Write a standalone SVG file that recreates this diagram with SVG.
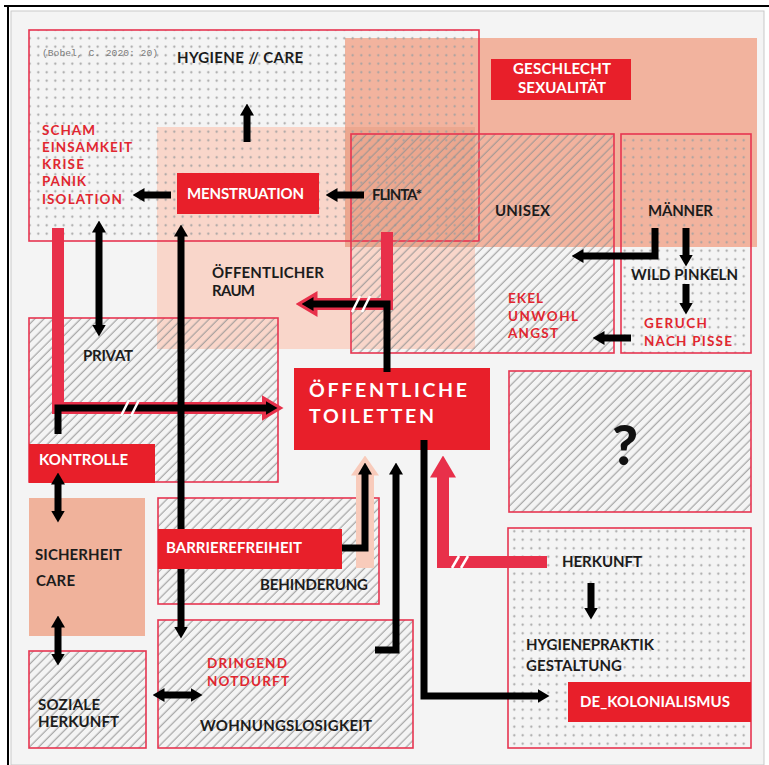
<svg xmlns="http://www.w3.org/2000/svg" width="769" height="765" viewBox="0 0 769 765">
<defs>
<style>
.t{font-family:Lato,"Noto Sans","DejaVu Sans",sans-serif;font-weight:700;font-size:15px;fill:#1c1c1c;letter-spacing:0}
.r{fill:#e1262f;font-size:13.5px}
.w{fill:#fff}
.big{font-size:19.5px}
.q{font-size:56px;fill:#111;font-weight:900}
.box{fill:none;stroke:#e63550;stroke-width:1.6}
.tag{fill:#e81f2a}
.blk{fill:none;stroke:#000;stroke-width:7;stroke-linejoin:miter}
.rb{fill:none;stroke:#e8304a;stroke-width:12;stroke-linejoin:miter}
.brk{stroke:#fff;stroke-width:2.5}
</style>
<pattern id="dots" width="8.5" height="8.5" patternUnits="userSpaceOnUse"><circle cx="4.25" cy="4.25" r="1.1" fill="#a0a0a0"/></pattern>
<pattern id="hatch" width="6.5" height="6.5" patternUnits="userSpaceOnUse" patternTransform="rotate(45)"><line x1="3" y1="0" x2="3" y2="6.5" stroke="#939393" stroke-width="1"/></pattern>
<marker id="ah" viewBox="0 0 12 14" refX="0.5" refY="7" markerWidth="12" markerHeight="14" markerUnits="userSpaceOnUse" orient="auto-start-reverse"><path d="M0,0 L12,7 L0,14 Z" fill="#000"/></marker>
<marker id="rh" viewBox="0 0 22 26" refX="0.5" refY="13" markerWidth="22" markerHeight="26" markerUnits="userSpaceOnUse" orient="auto"><path d="M0,0 L22,13 L0,26 Z" fill="#e8304a"/></marker>
<marker id="ph" viewBox="0 0 20 28" refX="0.5" refY="14" markerWidth="20" markerHeight="28" markerUnits="userSpaceOnUse" orient="auto"><path d="M0,0 L20,14 L0,28 Z" fill="#f8cbbb"/></marker>
</defs>

<!-- frame -->
<rect x="0" y="0" width="769" height="765" fill="#fff"/>
<rect x="11" y="11" width="753" height="754" fill="#f4f4f4" stroke="#c9c9c9" stroke-width="1"/>
<line x1="4" y1="6" x2="769" y2="6" stroke="#000" stroke-width="2"/>
<line x1="8" y1="5" x2="8" y2="765" stroke="#000" stroke-width="2"/>

<!-- background areas -->
<g id="geschlecht-area">
<rect x="345" y="38" width="412" height="209" fill="#f2b39e"/>
</g>
<g id="oeffentlicher-raum-area">
<rect x="157" y="127" width="318" height="222" fill="#f9d6ca"/>
<rect x="345" y="127" width="130" height="120" fill="#eca78f"/>
</g>

<!-- nodes -->
<g id="hygiene-care">
<rect x="29" y="30" width="450" height="211" fill="url(#dots)"/>
<rect x="29" y="30" width="450" height="211" class="box"/>
<text x="42" y="56" font-family="'Liberation Mono',monospace" font-size="9.5" fill="#7a7a7a" textLength="116" lengthAdjust="spacingAndGlyphs">(Bobel, C. 2020: 20)</text>
<text class="t" x="177" y="63" textLength="126">HYGIENE // CARE</text>
</g>
<g id="scham-list">
<text class="t r" x="42" y="135" textLength="53">SCHAM</text>
<text class="t r" x="42" y="152" textLength="90">EINSAMKEIT</text>
<text class="t r" x="42" y="169" textLength="42">KRISE</text>
<text class="t r" x="42" y="186" textLength="44">PANIK</text>
<text class="t r" x="42" y="203.5" textLength="80">ISOLATION</text>
</g>
<g id="unisex">
<rect x="351" y="134" width="263" height="219" fill="url(#hatch)"/>
<rect x="351" y="134" width="263" height="219" class="box"/>
<text class="t" x="495" y="216" textLength="55">UNISEX</text>
</g>
<g id="maenner">
<rect x="621" y="134" width="130" height="219" fill="url(#dots)"/>
<rect x="621" y="134" width="130" height="219" class="box"/>
<text class="t" x="648" y="216" textLength="65">MÄNNER</text>
</g>
<g id="wild-pinkeln"><text class="t" x="631" y="280" textLength="107">WILD PINKELN</text></g>
<g id="geruch">
<text class="t r" x="644" y="328" textLength="63">GERUCH</text>
<text class="t r" x="644" y="346" textLength="88">NACH PISSE</text>
</g>
<g id="ekel">
<text class="t r" x="508" y="303" textLength="35">EKEL</text>
<text class="t r" x="508" y="321" textLength="70">UNWOHL</text>
<text class="t r" x="508" y="338" textLength="50">ANGST</text>
</g>
<g id="flinta"><text class="t" x="372" y="200" textLength="50">FLINTA*</text></g>
<g id="geschlecht-sexualitaet">
<rect x="491" y="59" width="140" height="41" class="tag"/>
<text class="t w" x="513" y="74" textLength="98">GESCHLECHT</text>
<text class="t w" x="518" y="93" textLength="88">SEXUALITÄT</text>
</g>
<g id="menstruation">
<rect x="177" y="173" width="142" height="41" class="tag"/>
<text class="t w" x="187" y="199" textLength="117">MENSTRUATION</text>
</g>
<g id="oeffentlicher-raum">
<text class="t" x="212" y="278" textLength="112">ÖFFENTLICHER</text>
<text class="t" x="212" y="296" textLength="43">RAUM</text>
</g>
<g id="privat">
<rect x="29" y="318" width="249" height="164" fill="url(#hatch)"/>
<rect x="29" y="318" width="249" height="164" class="box"/>
<text class="t" x="83" y="361" textLength="50">PRIVAT</text>
</g>
<g id="kontrolle">
<rect x="29" y="444" width="126" height="39" class="tag"/>
<text class="t w" x="39" y="465" textLength="89">KONTROLLE</text>
</g>
<g id="oeffentliche-toiletten">
<rect x="294" y="368" width="196" height="82" class="tag"/>
<text class="t w big" x="309" y="397" textLength="158">ÖFFENTLICHE</text>
<text class="t w big" x="309" y="423" textLength="125">TOILETTEN</text>
</g>
<g id="frage">
<rect x="509" y="371" width="242" height="141" fill="url(#hatch)"/>
<rect x="509" y="371" width="242" height="141" class="box"/>
<text class="t q" x="625" y="465" text-anchor="middle">?</text>
</g>
<g id="sicherheit-care">
<rect x="29" y="498" width="116" height="138" fill="#f0b29b"/>
<text class="t" x="35" y="560" textLength="87">SICHERHEIT</text>
<text class="t" x="36" y="586" textLength="39">CARE</text>
</g>
<g id="behinderung">
<rect x="158" y="498" width="221" height="106" fill="url(#hatch)"/>
<rect x="158" y="498" width="221" height="106" class="box"/>
<text class="t" x="260" y="590" textLength="108">BEHINDERUNG</text>
</g>
<g id="soziale-herkunft">
<rect x="29" y="651" width="117" height="97" fill="url(#hatch)"/>
<rect x="29" y="651" width="117" height="97" class="box"/>
<text class="t" x="38" y="710" textLength="62">SOZIALE</text>
<text class="t" x="38" y="727" textLength="81">HERKUNFT</text>
</g>
<g id="wohnungslosigkeit">
<rect x="158" y="620" width="255" height="128" fill="url(#hatch)"/>
<rect x="158" y="620" width="255" height="128" class="box"/>
<text class="t r" x="207" y="668" textLength="80">DRINGEND</text>
<text class="t r" x="207" y="686" textLength="82">NOTDURFT</text>
<text class="t" x="200" y="731" textLength="172">WOHNUNGSLOSIGKEIT</text>
</g>
<g id="herkunft">
<rect x="508" y="528" width="243" height="220" fill="url(#dots)"/>
<rect x="508" y="528" width="243" height="220" class="box"/>
<text class="t" x="562" y="567" textLength="80">HERKUNFT</text>
<text class="t" x="526" y="650" textLength="128">HYGIENEPRAKTIK</text>
<text class="t" x="526" y="671" textLength="96">GESTALTUNG</text>
</g>
<g id="de-kolonialismus">
<rect x="568" y="682" width="183" height="40" class="tag"/>
<text class="t w" x="580" y="707" textLength="150">DE_KOLONIALISMUS</text>
</g>

<!-- connectors -->
<g id="connectors">
<path d="M58,228 V408 H262" class="rb" marker-end="url(#rh)"/>
<path d="M58,434 V408 H266" class="blk" marker-end="url(#ah)"/>
<line x1="121" y1="416" x2="129" y2="400" class="brk"/>
<line x1="131" y1="416" x2="139" y2="400" class="brk"/>
<path d="M387,232 V304 H317" class="rb" marker-end="url(#rh)"/>
<path d="M387,372 V304 H313" class="blk" marker-end="url(#ah)"/>
<line x1="352" y1="312" x2="360" y2="296" class="brk"/>
<line x1="362" y1="312" x2="370" y2="296" class="brk"/>
<path d="M365,568 V475" fill="none" stroke="#f8cbbb" stroke-width="18" marker-end="url(#ph)"/>
<path d="M342,548 H365 V474" class="blk" marker-end="url(#ah)"/>
<path d="M375,650 H396 V474" class="blk" marker-end="url(#ah)"/>
<path d="M424,440 V696 H538" class="blk" marker-end="url(#ah)"/>
<path d="M547,562 H443 V477" class="rb" marker-end="url(#rh)"/>
<line x1="452" y1="568" x2="459" y2="556" class="brk"/>
<line x1="461" y1="568" x2="468" y2="556" class="brk"/>
<path d="M247,142 V115" class="blk" marker-end="url(#ah)"/>
<path d="M171,195 H144" class="blk" marker-end="url(#ah)"/>
<path d="M364,195 H337" class="blk" marker-end="url(#ah)"/>
<path d="M99,232 V325" class="blk" marker-start="url(#ah)" marker-end="url(#ah)"/>
<path d="M181,236 V627" class="blk" marker-start="url(#ah)" marker-end="url(#ah)"/>
<path d="M58,484 V511" class="blk" marker-start="url(#ah)" marker-end="url(#ah)"/>
<path d="M58,627 V654" class="blk" marker-start="url(#ah)" marker-end="url(#ah)"/>
<path d="M164,695 H191" class="blk" marker-start="url(#ah)" marker-end="url(#ah)"/>
<path d="M655,228 V256 H583" class="blk" marker-end="url(#ah)"/>
<path d="M686,228 V255" class="blk" marker-end="url(#ah)"/>
<path d="M686,284 V303" class="blk" marker-end="url(#ah)"/>
<path d="M631,338 H604" class="blk" marker-end="url(#ah)"/>
<path d="M591,583 V608" class="blk" marker-end="url(#ah)"/>
</g>

<g id="barrierefreiheit">
<rect x="158" y="529" width="184" height="40" class="tag"/>
<text class="t w" x="166" y="553" textLength="136">BARRIEREFREIHEIT</text>
</g>
</svg>
